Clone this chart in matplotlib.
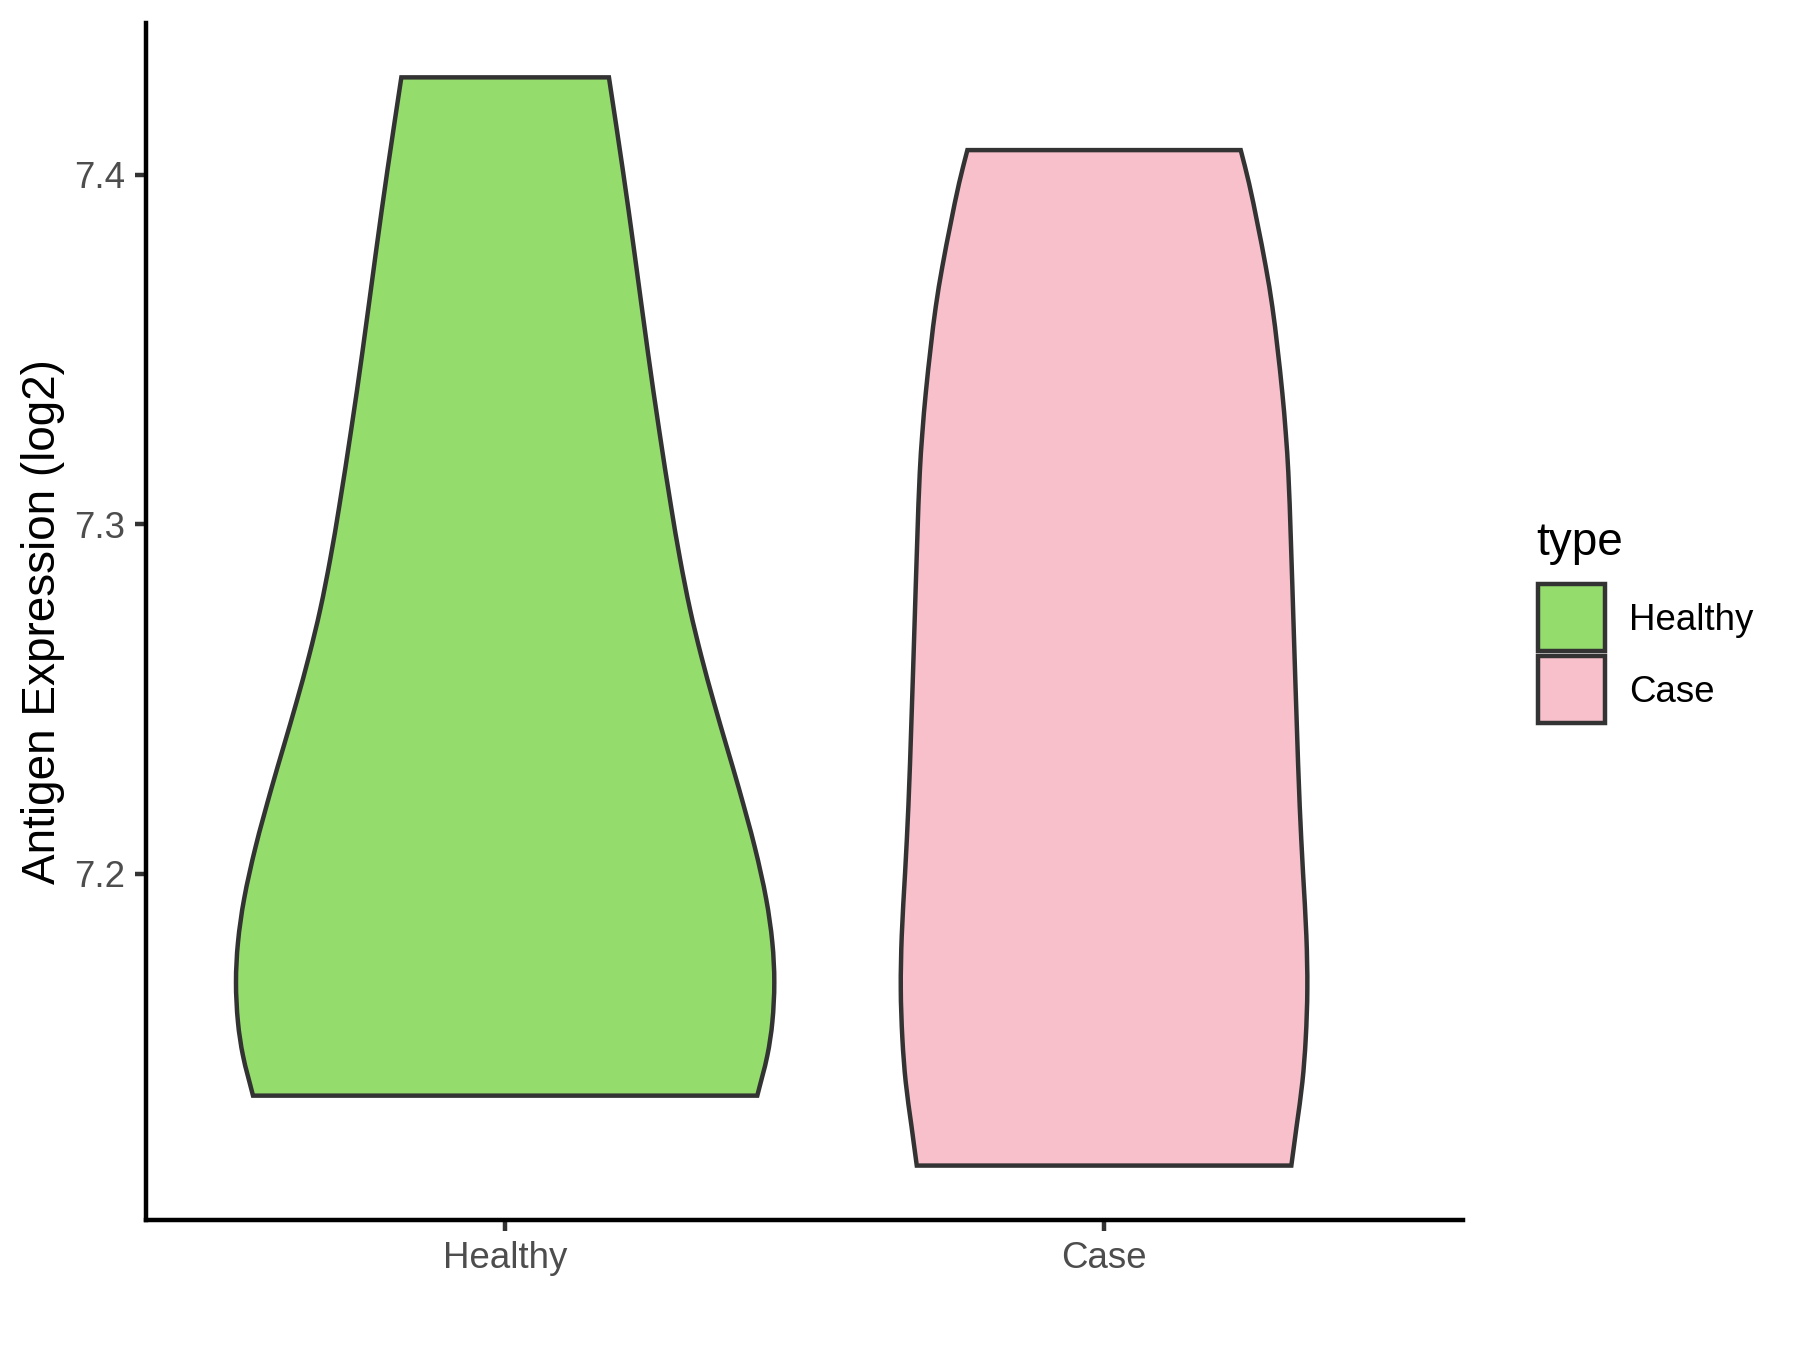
import numpy as np
import matplotlib.pyplot as plt
from matplotlib.patches import Rectangle, PathPatch
from matplotlib.path import Path

plt.rcParams['font.family'] = ['Liberation Sans', 'DejaVu Sans']

groups = ["Healthy", "Case"]
fills = ["#94DC6B", "#F7C0CB"]

# violin outlines: y value and half width (x units)
healthy_y = [7.4278, 7.4013, 7.3775, 7.3489, 7.3270, 7.3051, 7.2899, 7.2756,
             7.2623, 7.2490, 7.2366, 7.2242, 7.2076, 7.1928, 7.1804, 7.1690,
             7.1576, 7.1480, 7.1366]
healthy_hw = [0.1733, 0.1965, 0.2160, 0.2386, 0.2571, 0.2770, 0.2922, 0.3088,
              0.3275, 0.3486, 0.3696, 0.3907, 0.4169, 0.4359, 0.4461, 0.4494,
              0.4461, 0.4377, 0.4210]
case_y = [7.4070, 7.3975, 7.3861, 7.3737, 7.3622, 7.3508, 7.3375, 7.3261,
          7.3147, 7.2966, 7.2671, 7.2433, 7.2194, 7.2004, 7.1823, 7.1671,
          7.1528, 7.1404, 7.1281, 7.1166]
case_hw = [0.2282, 0.2421, 0.2560, 0.2700, 0.2810, 0.2893, 0.2977, 0.3034,
           0.3077, 0.3117, 0.3172, 0.3217, 0.3267, 0.3322, 0.3378, 0.3394,
           0.3367, 0.3311, 0.3217, 0.3127]

yticks = [7.2, 7.3, 7.4]


def hermite_side(xs, ys):
    # bezier pieces through the points, x taken as a function of y
    xs = np.asarray(xs, float)
    ys = np.asarray(ys, float)
    n = len(xs)
    m = np.zeros(n)
    m[0] = (xs[1] - xs[0]) / (ys[1] - ys[0])
    m[-1] = (xs[-1] - xs[-2]) / (ys[-1] - ys[-2])
    for i in range(1, n - 1):
        m[i] = (xs[i + 1] - xs[i - 1]) / (ys[i + 1] - ys[i - 1])
    verts, codes = [], []
    for i in range(n - 1):
        h = ys[i + 1] - ys[i]
        verts += [(xs[i] + m[i] * h / 3, ys[i] + h / 3),
                  (xs[i + 1] - m[i + 1] * h / 3, ys[i + 1] - h / 3),
                  (xs[i + 1], ys[i + 1])]
        codes += [Path.CURVE4] * 3
    return verts, codes


fig = plt.figure(figsize=(6, 4.5), dpi=300)
ax = fig.add_axes([0.081, 0.0963, 0.732, 0.8867])

profiles = [(healthy_y, healthy_hw), (case_y, case_hw)]
for i, (ys, hw) in enumerate(profiles):
    ys = np.array(ys)
    hw = np.array(hw)
    pos = i + 1
    left_x = pos - hw
    right_x = (pos + hw)[::-1]
    verts = [(left_x[0], ys[0])]
    codes = [Path.MOVETO]
    v, c = hermite_side(left_x, ys)
    verts += v
    codes += c
    verts.append((right_x[0], ys[-1]))
    codes.append(Path.LINETO)
    v, c = hermite_side(right_x, ys[::-1])
    verts += v
    codes += c
    verts.append((left_x[0], ys[0]))
    codes.append(Path.CLOSEPOLY)
    ax.add_patch(PathPatch(Path(verts, codes), facecolor=fills[i],
                           edgecolor="#333333", linewidth=1.07))

all_y = healthy_y + case_y
lo, hi = min(all_y), max(all_y)
pad = (hi - lo) * 0.05
ax.set_ylim(lo - pad, hi + pad)
ax.set_xlim(0.4, 2.6)

ax.set_xticks([1, 2])
ax.set_xticklabels(groups)
ax.set_yticks(yticks)
ax.set_yticklabels([str(t) for t in yticks])
ax.tick_params(axis='both', labelsize=8.8, labelcolor="#4D4D4D", color="#333333",
               width=1.07, length=2.75, pad=2.2)

for s in ['top', 'right']:
    ax.spines[s].set_visible(False)
for s in ['left', 'bottom']:
    ax.spines[s].set_linewidth(1.07)
    ax.spines[s].set_color("black")

ax.set_ylabel("Antigen Expression (log2)", fontsize=11, color="black")
ax.yaxis.set_label_coords(-0.061, 0.5)

# legend
fig.text(0.8535, 0.5889, "type", fontsize=11, va='baseline', ha='left')
key_w, key_h = 67 / 1800, 67 / 1350
key_y = [0.5178, 0.4648]
label_y = [0.5333, 0.4802]
for i, g in enumerate(groups):
    fig.add_artist(Rectangle((0.8544, key_y[i]), key_w, key_h, transform=fig.transFigure,
                             facecolor=fills[i], edgecolor="#333333", linewidth=1.07))
    fig.text(0.9052, label_y[i], g, fontsize=8.8, va='baseline', ha='left')

plt.savefig('out.png', dpi=300)
